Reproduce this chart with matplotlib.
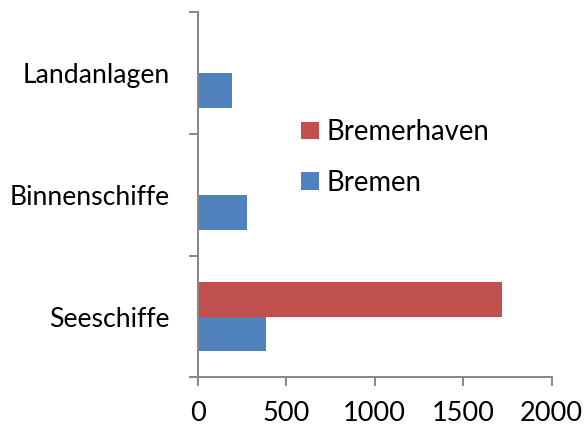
import numpy as np
import matplotlib.pyplot as plt

plt.rcParams['font.family'] = ['Lato', 'DejaVu Sans']

categories = ['Seeschiffe', 'Binnenschiffe', 'Landanlagen']
bremen = [384, 280, 194]
bremerhaven = [1719, 0, 0]

fig = plt.figure(figsize=(5.85, 4.28), dpi=100)
ax = fig.add_axes([0.338, 0.118, 0.605, 0.854])

y = np.arange(len(categories))
h = 1 / 3.5
ax.barh(y - h / 2, bremen, height=h, color='#4F81BD', label='Bremen')
ax.barh(y + h / 2, bremerhaven, height=h, color='#C0504D', label='Bremerhaven')

ax.set_xlim(0, 2000)
ax.set_ylim(-0.5, len(categories) - 0.5)
ax.set_xticks([0, 500, 1000, 1500, 2000])
ax.set_yticks(np.arange(-0.5, len(categories), 1.0))
ax.set_yticklabels([])
ax.set_yticks(y, minor=True)
ax.set_yticklabels(categories, minor=True)

axis_col = '#868686'
for side in ['top', 'right']:
    ax.spines[side].set_visible(False)
for side in ['left', 'bottom']:
    ax.spines[side].set_color(axis_col)
    ax.spines[side].set_linewidth(1.4)
ax.tick_params(axis='both', which='major', direction='out', length=6.5,
               width=1.4, color=axis_col, labelsize=19.5)
ax.tick_params(axis='x', pad=10.5)
ax.tick_params(axis='y', which='minor', length=0, pad=20, labelsize=19.2)

handles, labels = ax.get_legend_handles_labels()
ax.legend(handles[::-1], labels[::-1], loc='upper left',
          bbox_to_anchor=(0.262, 0.737), frameon=False, fontsize=19.8,
          handlelength=0.62, handleheight=0.62, handletextpad=0.3,
          labelspacing=0.9, borderaxespad=0)

fig.savefig('out.png', dpi=100)
